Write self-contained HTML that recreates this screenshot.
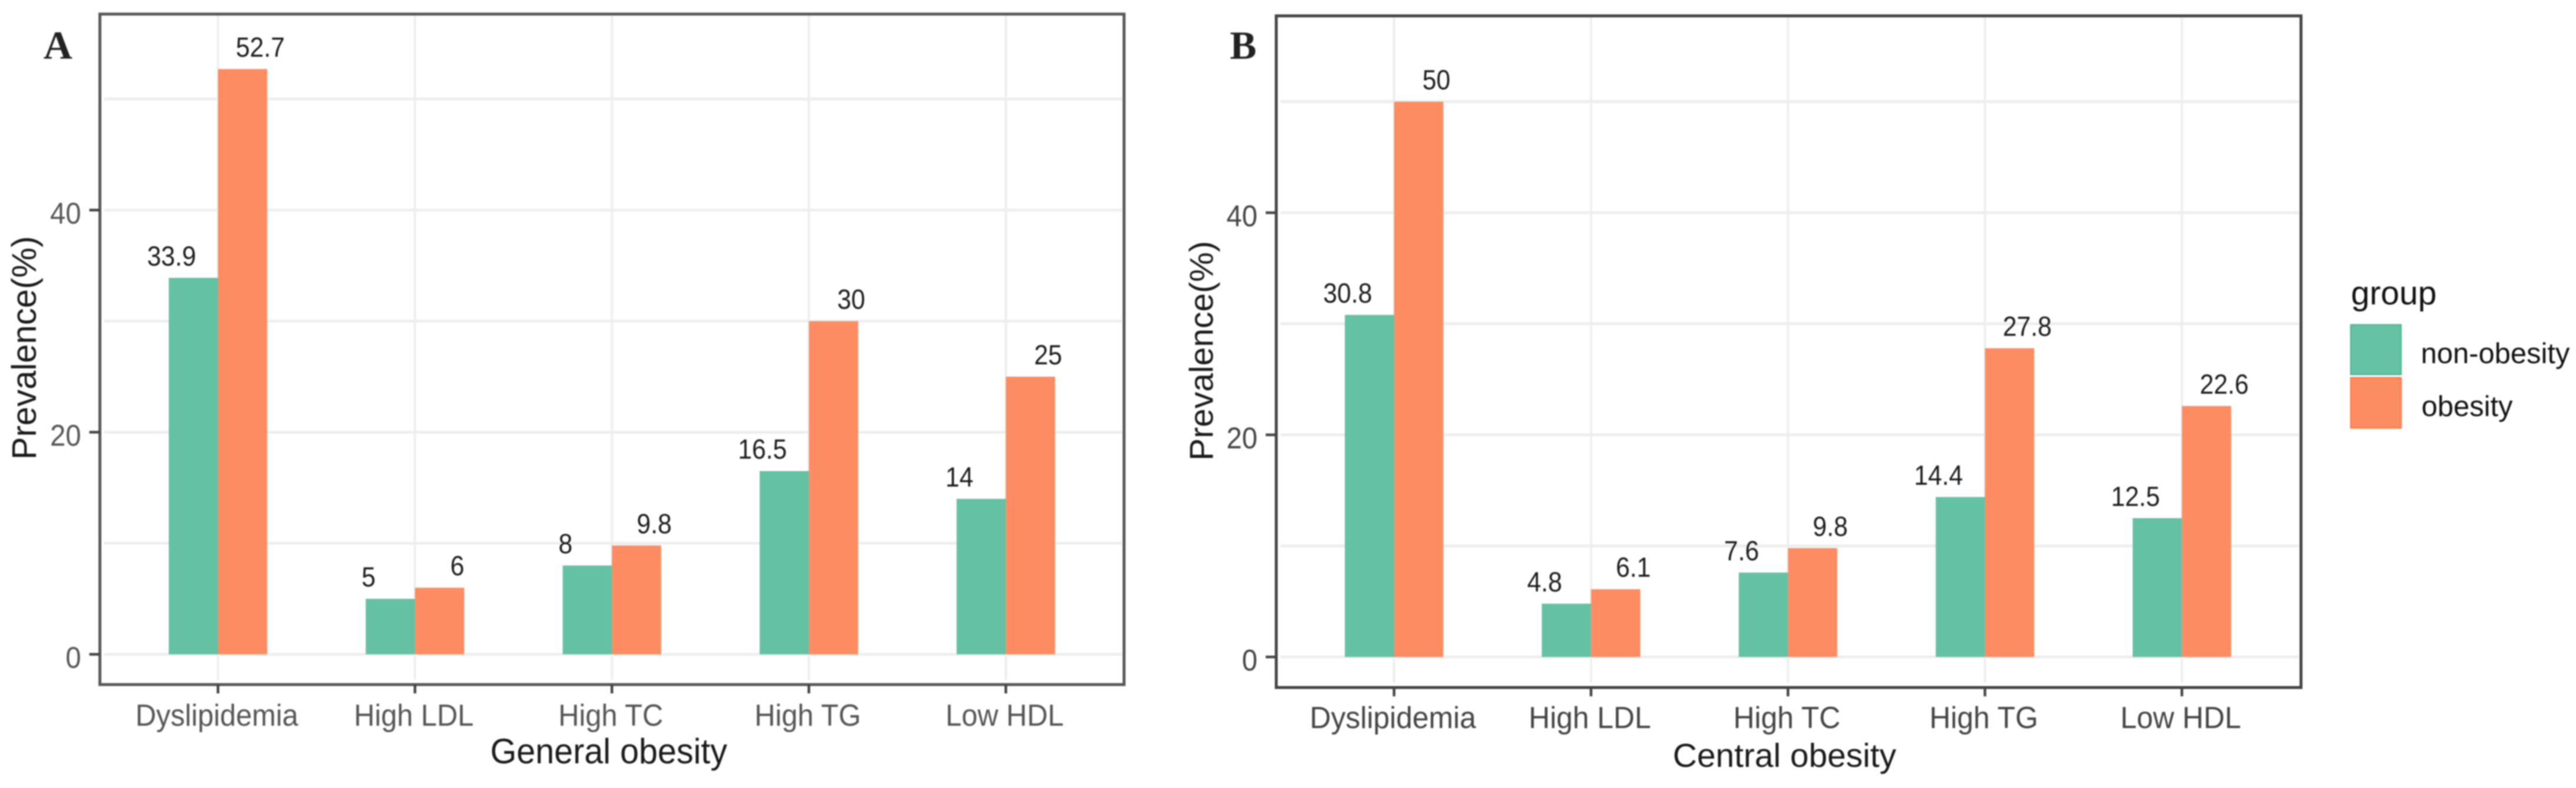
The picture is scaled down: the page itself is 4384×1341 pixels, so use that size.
<!DOCTYPE html>
<html lang="en">
<head>
<meta charset="utf-8">
<title>Prevalence of dyslipidemia by obesity group</title>
<style>
html,body{margin:0;padding:0;background:#fff;width:4384px;height:1341px;overflow:hidden}
svg{display:block;filter:blur(1px)}
text{font-family:"Liberation Sans",sans-serif}
.letter{font-family:"Liberation Serif",serif;font-weight:bold;fill:#222}
.axis-title{fill:#1a1a1a}
</style>
</head>
<body>
<svg id="chart" xmlns="http://www.w3.org/2000/svg" width="4384" height="1341" viewBox="0 0 4384 1341">
  <rect x="0" y="0" width="4384" height="1341" fill="#fff"/>
  <g id="panel-a"></g>
  <g id="panel-b"></g>

  <text class="letter" x="74" y="100" font-size="68">A</text>
  <text class="letter" x="2093" y="100" font-size="68">B</text>

  <text class="axis-title" transform="translate(61,592) rotate(-90)" text-anchor="middle" font-size="58">Prevalence(%)</text>
  <text class="axis-title" transform="translate(2064,597) rotate(-90)" text-anchor="middle" font-size="57">Prevalence(%)</text>
  <text class="axis-title" transform="translate(1036,1299) scale(0.96,1)" text-anchor="middle" font-size="60">General obesity</text>
  <text class="axis-title" x="3037" y="1305" text-anchor="middle" font-size="57">Central obesity</text>

  <g>
    <text x="4001" y="518" font-size="57" fill="#111">group</text>
    <rect x="4001" y="553" width="85" height="84" fill="#66c2a5" stroke="#57b997" stroke-width="3"/>
    <rect x="4001" y="643" width="85" height="85" fill="#fc8d62" stroke="#ff7f4f" stroke-width="3"/>
    <text x="4120" y="618" font-size="49" fill="#111">non-obesity</text>
    <text x="4121" y="708" font-size="49" fill="#111">obesity</text>
  </g>
</svg>
<script>
var categories = ["Dyslipidemia", "High LDL", "High TC", "High TG", "Low HDL"];
var generalNonObesity = [33.9, 5, 8, 16.5, 14];
var generalObesity = [52.7, 6, 9.8, 30, 25];
var centralNonObesity = [30.8, 4.8, 7.6, 14.4, 12.5];
var centralObesity = [50, 6.1, 9.8, 27.8, 22.6];
var yTickValues = [0, 20, 40];
var yGridValues = [0, 10, 20, 30, 40, 50];

var SVGNS = "http://www.w3.org/2000/svg";
function shape(parent, tag, attrs) {
  var el = document.createElementNS(SVGNS, tag);
  for (var k in attrs) { el.setAttribute(k, attrs[k]); }
  parent.appendChild(el);
  return el;
}

function drawPanel(cfg) {
  var root = document.getElementById(cfg.id);
  function xScale(i) { return cfg.x0 + i * cfg.step; }
  function yScale(v) { return cfg.y0 - v * cfg.unit; }
  var barW = cfg.step / 4;

  var frame = { left: cfg.left, right: cfg.right, top: cfg.top, bottom: cfg.bottom };

  yGridValues.forEach(function (v) {
    var line = shape(root, "line", { x1: frame.left + 7, x2: frame.right - 4, y1: yScale(v), y2: yScale(v), stroke: "#eeeeee", "stroke-width": 5 });
    
    
  });
  categories.forEach(function (c, i) {
    var line = shape(root, "line", { x1: xScale(i), x2: xScale(i), y1: frame.top + 3, y2: frame.bottom - 8, stroke: "#eeeeee", "stroke-width": 4 });
    
    
  });

  categories.forEach(function (c, i) {
    var a = cfg.seriesA[i];
    var b = cfg.seriesB[i];
    var barA = shape(root, "rect", { x: xScale(i) - barW, y: yScale(a), width: barW, height: yScale(0) - yScale(a), fill: "#65c1a4" });
    
    
    var barB = shape(root, "rect", { x: xScale(i), y: yScale(b), width: barW, height: yScale(0) - yScale(b), fill: "#fd8c62" });
    
    

    var labelA = shape(root, "text", { transform: "translate(" + (xScale(i) - 79) + "," + (yScale(a) - 21) + ") scale(0.91,1)", "text-anchor": "middle", "font-size": 47, fill: "#1c1c1c" });
    labelA.textContent = String(a);
    
    
    var labelB = shape(root, "text", { transform: "translate(" + (xScale(i) + 72) + "," + (yScale(b) - 21) + ") scale(0.91,1)", "text-anchor": "middle", "font-size": 47, fill: "#1c1c1c" });
    labelB.textContent = String(b);
    
    
  });

  var border = shape(root, "rect", { x: frame.left, y: frame.top, width: frame.right - frame.left, height: frame.bottom - frame.top, fill: "none", stroke: cfg.border, "stroke-width": 5 });
  
  

  yTickValues.forEach(function (v) {
    var tick = shape(root, "line", { x1: frame.left - 18, x2: frame.left, y1: yScale(v), y2: yScale(v), stroke: "#444", "stroke-width": 4.5 });
    
    
    var label = shape(root, "text", { transform: "translate(" + (frame.left - 32) + "," + (yScale(v) + 23) + ") scale(0.93,1)", "text-anchor": "end", "font-size": 51, fill: cfg.tickText });
    label.textContent = String(v);
    
    
  });

  categories.forEach(function (c, i) {
    var tick = shape(root, "line", { x1: xScale(i), x2: xScale(i), y1: frame.bottom, y2: frame.bottom + 15, stroke: "#444", "stroke-width": 4.5 });
    
    
    var label = shape(root, "text", { transform: "translate(" + (xScale(i) - 2) + "," + cfg.labelY + ") scale(" + cfg.labelScale + ",1)", "text-anchor": "middle", "font-size": 52, fill: cfg.tickText });
    label.textContent = c;
    
    
  });
}

drawPanel({ id: "panel-a", x0: 371, step: 335.2, y0: 1113.5, unit: 18.9, left: 170, right: 1913, top: 24, bottom: 1165, seriesA: generalNonObesity, seriesB: generalObesity, border: "#585858", tickText: "#555", labelY: 1235, labelScale: 0.94 });
drawPanel({ id: "panel-b", x0: 2372.5, step: 335.2, y0: 1118, unit: 18.9, left: 2172, right: 3916, top: 27, bottom: 1170, seriesA: centralNonObesity, seriesB: centralObesity, border: "#444", tickText: "#444", labelY: 1239, labelScale: 0.96 });
</script>
</body>
</html>
